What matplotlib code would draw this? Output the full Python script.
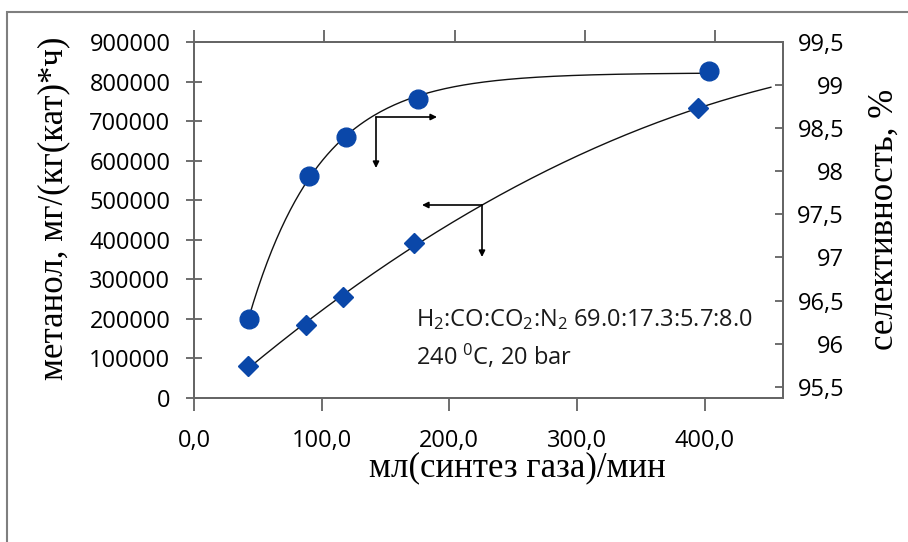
import numpy as np
import matplotlib
matplotlib.use("Agg")
import matplotlib.pyplot as plt
from matplotlib.patches import Rectangle

# ---- data ----
flow = [42, 88, 117, 172, 395]                       # мл(синтез газа)/мин
methanol = [80000, 184000, 255000, 391000, 732000]   # мг/(кг(кат)*ч)
selectivity = [96.29, 97.95, 98.40, 98.84, 99.16]    # %
x_ticks = [0, 100, 200, 300, 400]
x_tick_labels = ["0,0", "100,0", "200,0", "300,0", "400,0"]
y_ticks = [0, 100000, 200000, 300000, 400000, 500000, 600000, 700000, 800000, 900000]
y2_ticks = [95.5, 96, 96.5, 97, 97.5, 98, 98.5, 99, 99.5]
y2_tick_labels = ["95,5", "96", "96,5", "97", "97,5", "98", "98,5", "99", "99,5"]

plt.rcParams['mathtext.fontset'] = 'custom'
plt.rcParams['mathtext.rm'] = 'Open Sans'
plt.rcParams['mathtext.default'] = 'regular'

W, H = 908, 542
fig = plt.figure(figsize=(W / 100, H / 100), dpi=100)
fig.patch.set_facecolor('white')

# outer frame (partially outside the image)
fig.patches.append(Rectangle((7 / W, -0.2), 2.0, 1 - 12 / H + 0.2, transform=fig.transFigure,
                             fill=False, edgecolor='#7f7f7f', lw=1.5))

L, R, B, T = 194 / W, 783 / W, 1 - 398 / H, 1 - 42 / H
ax = fig.add_axes([L, B, R - L, T - B])   # bottom x, left y  (methanol)
ax2 = ax.twinx()                           # right y (selectivity)
ax4 = ax2.twiny()                          # top x, right y (selectivity series)

blue = '#0a47a9'
tickfont = dict(family='Open Sans', size=17)

# methanol (diamonds) with polynomial trendline
xd = np.array(flow, dtype=float)
coef = np.polyfit(xd, np.array(methanol, dtype=float), 2)
xx = np.linspace(min(flow), 452, 200)
ax.plot(xx, np.polyval(coef, xx), color='#111111', lw=1.0, zorder=2)
ax.plot(flow, methanol, linestyle='none', marker='D', ms=10, color=blue, zorder=3)

# selectivity (circles) with saturation fit
ys = np.array(selectivity, dtype=float)
best = None
for c in np.linspace(0.005, 0.05, 451):
    A = np.vstack([np.ones_like(xd), -np.exp(-c * xd)]).T
    sol, *_ = np.linalg.lstsq(A, ys, rcond=None)
    err = np.sum((A @ sol - ys) ** 2)
    if best is None or err < best[0]:
        best = (err, c, sol)
_, cb, (ab, bb) = best
xs = np.linspace(min(flow), max(flow), 200)
ax4.plot(xs, ab - bb * np.exp(-cb * xs), color='#111111', lw=1.0, zorder=2)
ax4.plot(flow, selectivity, linestyle='none', marker='o', ms=13.5, color=blue, zorder=3)

# axes ranges
ax.set_xlim(0, 461.5)
ax.set_ylim(0, 900000)
ax2.set_ylim(95.37, 99.5)
ax4.set_xlim(0, 452)

# ticks
ax.set_xticks(x_ticks)
ax.set_xticklabels(x_tick_labels, **tickfont)
ax.set_yticks(y_ticks)
ax.set_yticklabels([str(v) for v in y_ticks], **tickfont)
ax.tick_params(axis='x', direction='out', length=9, width=1.2, color='#555555', pad=13)
ax.tick_params(axis='y', direction='inout', length=12, width=1.2, color='#555555', pad=11)

ax2.set_yticks(y2_ticks)
ax2.set_yticklabels(y2_tick_labels, **tickfont)
for lab in ax2.get_yticklabels():
    lab.set_horizontalalignment('right')
ax2.tick_params(axis='y', direction='in', length=6, width=1.2, color='#555555', pad=44)

ax4.set_xticks(x_ticks)
ax4.set_xticklabels([])
ax4.tick_params(axis='x', direction='out', length=9, width=1.2, color='#555555')

for a in (ax, ax2, ax4):
    for s in a.spines.values():
        s.set_color('#666666')
        s.set_linewidth(1.3)

# axis labels
serif = dict(family='Liberation Serif', size=25)
fig.text(54 / W, 1 - 208 / H, 'метанол, мг/(кг(кат)*ч)', rotation=90, ha='center', va='center', **serif)
fig.text(884 / W, 1 - 219 / H, 'селективность, %', rotation=90, ha='center', va='center', **serif)
fig.text(517 / W, 1 - 468 / H, 'мл(синтез газа)/мин', ha='center', va='center', **serif)

# condition text
ax.text(416 / W, 1 - 320 / H, 'H$_2$:CO:CO$_2$:N$_2$ 69.0:17.3:5.7:8.0', transform=fig.transFigure,
        ha='left', va='center', family='Open Sans', size=17, color='#1a1a1a')
ax.text(416 / W, 1 - 357 / H, '240 $^0$C, 20 bar', transform=fig.transFigure,
        ha='left', va='center', family='Open Sans', size=17, color='#1a1a1a')

# arrows pointing to the corresponding axes
ap = dict(arrowstyle='-|>', lw=1.2, color='black', mutation_scale=9, shrinkA=0, shrinkB=0)
def fp(px, py):
    return (px / W, 1 - py / H)
for (x0, y0), (x1, y1) in [((376, 117), (437, 117)), ((376, 117), (376, 168)),
                           ((482, 205), (422, 205)), ((482, 205), (482, 257))]:
    ax.annotate('', xy=fp(x1, y1), xytext=fp(x0, y0), xycoords='figure fraction',
                textcoords='figure fraction', arrowprops=ap)

fig.savefig('out.png', dpi=100)
